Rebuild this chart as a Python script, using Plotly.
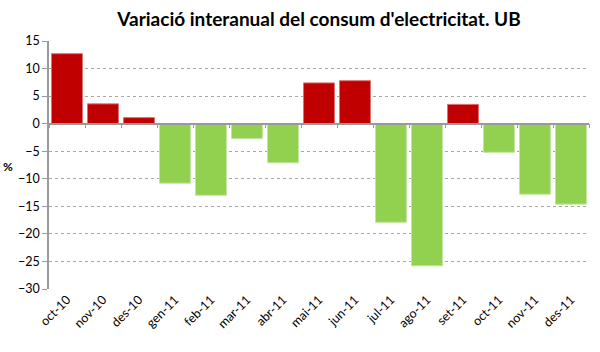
import plotly.graph_objects as go

months = ["oct-10", "nov-10", "des-10", "gen-11", "feb-11", "mar-11", "abr-11", "mai-11",
          "jun-11", "jul-11", "ago-11", "set-11", "oct-11", "nov-11", "des-11"]
variation = [12.7, 3.6, 1.1, -10.8, -13.0, -2.7, -7.1, 7.4, 7.8, -17.9, -25.8, 3.5, -5.2, -12.8, -14.6]

POS_COLOR = "#C00000"
NEG_COLOR = "#92D050"
colors = [POS_COLOR if v >= 0 else NEG_COLOR for v in variation]
edge = ["#E07070" if v >= 0 else "#C3E6A0" for v in variation]

FONT = "Lato"

fig = go.Figure()
fig.add_trace(go.Bar(
    x=months, y=variation,
    marker=dict(color=colors, line=dict(color=edge, width=1)),
    hoverinfo="x+y",
))
# dummy trace on second x-axis to draw category boundary ticks on zero line
fig.add_trace(go.Bar(x=months, y=[None]*len(months), xaxis="x2", showlegend=False, hoverinfo="skip"))

fig.update_layout(
    width=600, height=352,
    margin=dict(l=49, r=11, t=41, b=63),
    paper_bgcolor="white", plot_bgcolor="white",
    showlegend=False,
    bargap=0.14,
    font=dict(family=FONT, size=12, color="#000000"),
    title=dict(text="<b>Variació interanual del consum d'electricitat. UB</b>",
               x=0.5, xref="paper", xanchor="center",
               y=1 - 19/352, yref="container", yanchor="middle",
               font=dict(family=FONT, size=19, color="#000000")),
    xaxis=dict(
        type="category", showgrid=False, zeroline=False, showline=False,
        tickangle=-45, ticks="", tickfont=dict(size=12.5, family=FONT),
    ),
    xaxis2=dict(
        type="category", overlaying="x", anchor="free", position=30/45,
        matches="x", showline=True, linecolor="#9a9a9a", linewidth=1.5,
        ticks="outside", ticklen=4, tickcolor="#9a9a9a", tickson="boundaries",
        showticklabels=False, showgrid=False, zeroline=False,
    ),
    yaxis=dict(
        range=[-30, 15], dtick=5, tick0=0,
        showgrid=True, gridcolor="#a6a6a6", griddash="3px,3px", gridwidth=1,
        zeroline=False,
        showline=True, linecolor="#9a9a9a", linewidth=1.5,
        ticks="outside", ticklen=5, tickcolor="#9a9a9a",
        tickfont=dict(size=12.5, family=FONT),
    ),
    annotations=[dict(text="<b>%</b>", xref="paper", yref="paper",
                      x=-49/540 + 8/540, y=(289 - 166)/248, xanchor="center", yanchor="middle",
                      showarrow=False, font=dict(size=12, family=FONT))],
)

fig.write_html("out.html")
